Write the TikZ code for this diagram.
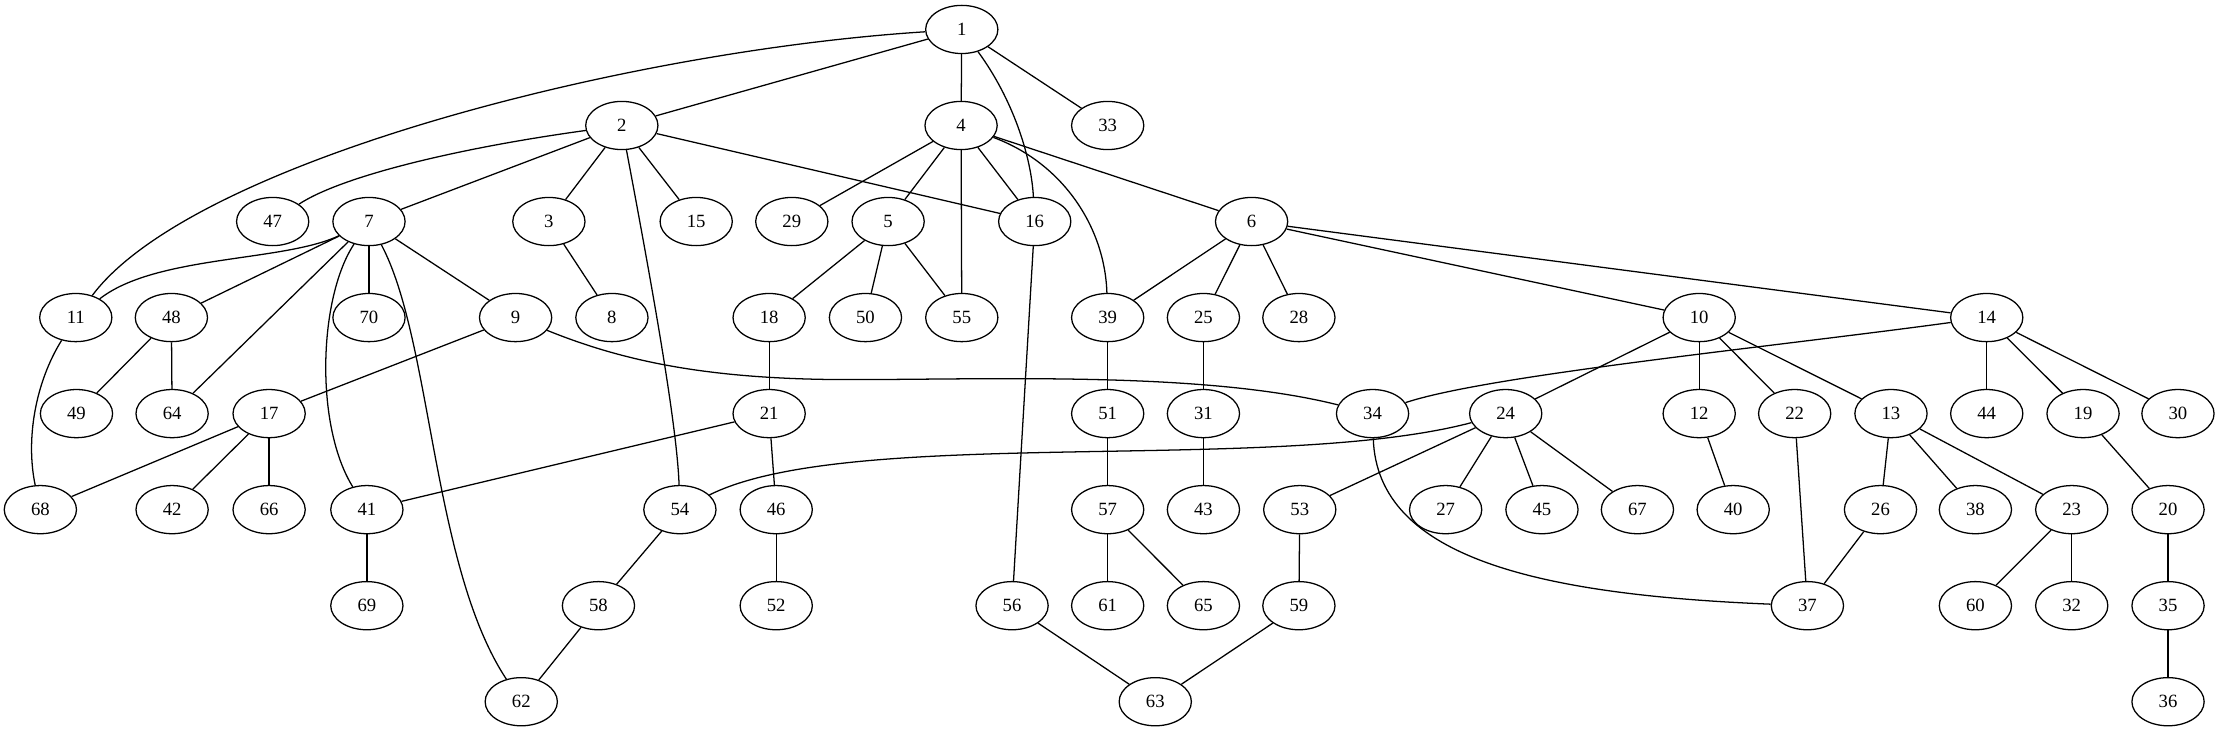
\documentclass[tikz,border=0pt]{standalone}
\usepackage{fontspec}
\setmainfont{Liberation Serif}
\usetikzlibrary{shapes.geometric}
\begin{document}
\begin{tikzpicture}[x=1pt,y=-1pt,
  v/.style={ellipse,draw,line width=0.9pt,minimum width=51pt,minimum height=34pt,inner sep=0pt,font=\fontsize{13.2}{15}\selectfont},
  e/.style={line width=0.9pt}]
\useasboundingbox (0,0) rectangle (1568,516);
\def\ra{20.8}\def\rb{88.6}\def\rc{156.4}\def\rd{224.2}\def\re{292}\def\rf{359.8}\def\rg{427.6}\def\rh{495.4}
% row 0
\node[v] (n1) at (679,\ra) {1};
% row 1
\node[v] (n2) at (439,\rb) {2};
\node[v] (n4) at (678.5,\rb) {4};
\node[v] (n33) at (782,\rb) {33};
% row 2
\node[v] (n47) at (192.5,\rc) {47};
\node[v] (n7) at (260.5,\rc) {7};
\node[v] (n3) at (387.5,\rc) {3};
\node[v] (n15) at (491.5,\rc) {15};
\node[v] (n29) at (559,\rc) {29};
\node[v] (n5) at (627,\rc) {5};
\node[v] (n16) at (730.5,\rc) {16};
\node[v] (n6) at (883.6,\rc) {6};
% row 3
\node[v] (n11) at (53.5,\rd) {11};
\node[v] (n48) at (121,\rd) {48};
\node[v] (n70) at (260.5,\rd) {70};
\node[v] (n9) at (364,\rd) {9};
\node[v] (n8) at (432,\rd) {8};
\node[v] (n18) at (543,\rd) {18};
\node[v] (n50) at (611,\rd) {50};
\node[v] (n55) at (679,\rd) {55};
\node[v] (n39) at (782,\rd) {39};
\node[v] (n25) at (849.6,\rd) {25};
\node[v] (n28) at (917,\rd) {28};
\node[v] (n10) at (1199.6,\rd) {10};
\node[v] (n14) at (1402.6,\rd) {14};
% row 4
\node[v] (n49) at (54,\re) {49};
\node[v] (n64) at (121.5,\re) {64};
\node[v] (n17) at (190,\re) {17};
\node[v] (n21) at (543,\re) {21};
\node[v] (n51) at (782,\re) {51};
\node[v] (n31) at (849.6,\re) {31};
\node[v] (n34) at (969,\re) {34};
\node[v] (n24) at (1063,\re) {24};
\node[v] (n12) at (1199.6,\re) {12};
\node[v] (n22) at (1267,\re) {22};
\node[v] (n13) at (1335,\re) {13};
\node[v] (n44) at (1402.6,\re) {44};
\node[v] (n19) at (1470.6,\re) {19};
\node[v] (n30) at (1537.6,\re) {30};
% row 5
\node[v] (n68) at (28.5,\rf) {68};
\node[v] (n42) at (121.5,\rf) {42};
\node[v] (n66) at (190,\rf) {66};
\node[v] (n41) at (259,\rf) {41};
\node[v] (n54) at (480,\rf) {54};
\node[v] (n46) at (548,\rf) {46};
\node[v] (n57) at (782,\rf) {57};
\node[v] (n43) at (849.6,\rf) {43};
\node[v] (n53) at (917.6,\rf) {53};
\node[v] (n27) at (1020.6,\rf) {27};
\node[v] (n45) at (1088.6,\rf) {45};
\node[v] (n67) at (1156,\rf) {67};
\node[v] (n40) at (1223.6,\rf) {40};
\node[v] (n26) at (1327.6,\rf) {26};
\node[v] (n38) at (1394.6,\rf) {38};
\node[v] (n23) at (1462.6,\rf) {23};
\node[v] (n20) at (1530.6,\rf) {20};
% row 6
\node[v] (n69) at (259,\rg) {69};
\node[v] (n58) at (422.5,\rg) {58};
\node[v] (n52) at (548,\rg) {52};
\node[v] (n56) at (714.5,\rg) {56};
\node[v] (n61) at (782,\rg) {61};
\node[v] (n65) at (849.6,\rg) {65};
\node[v] (n59) at (917,\rg) {59};
\node[v] (n37) at (1276,\rg) {37};
\node[v] (n60) at (1394.6,\rg) {60};
\node[v] (n32) at (1462.6,\rg) {32};
\node[v] (n35) at (1530.6,\rg) {35};
% row 7
\node[v] (n62) at (368,\rh) {62};
\node[v] (n63) at (815.6,\rh) {63};
\node[v] (n36) at (1530.6,\rh) {36};
\coordinate (c934) at (600,268);
% straight edges
\foreach \a/\b in {1/2,1/4,1/33,2/7,2/3,2/15,2/16,4/29,4/5,4/55,4/16,4/6,
  7/48,7/64,7/70,7/9,3/8,5/18,5/50,5/55,16/56,6/39,6/25,6/28,6/10,6/14,
  48/49,48/64,9/17,18/21,39/51,25/31,10/24,10/12,10/22,10/13,14/44,14/19,14/30,
  17/68,17/42,17/66,21/41,21/46,51/57,31/43,24/53,24/27,24/45,24/67,12/40,22/37,
  13/26,13/38,13/23,19/20,41/69,54/58,46/52,57/61,57/65,53/59,26/37,23/60,23/32,
  20/35,58/62,56/63,59/63,35/36}
  \draw[e] (n\a) -- (n\b);
% curved edges
\draw[e] (n1) .. controls (440,36) and (135,115) .. (n11);
\draw[e] (n2) .. controls (320,105) and (240,125) .. (n47);
\draw[e] (n2) .. controls (460,200) and (478,300) .. (n54);
\draw[e] (n7) .. controls (200,185) and (110,180) .. (n11);
\draw[e] (n7) .. controls (225,210) and (222,300) .. (n41);
\draw[e] (n7) .. controls (305,240) and (305,400) .. (n62);
\draw[e] (n1) .. controls (715,70) and (728,110) .. (n16);
\draw[e] (n4) .. controls (750,115) and (780,160) .. (n39);
\draw[e] (n9) .. controls (440,255) and (500,268) .. (c934) .. controls (700,268) and (850,262) .. (n34);
\draw[e] (n14) .. controls (1250,245) and (1050,265) .. (n34);
\draw[e] (n24) .. controls (900,335) and (600,300) .. (n54);
\draw[e] (n34) .. controls (972,395) and (1090,420) .. (n37);
\draw[e] (n11) .. controls (25,270) and (18,310) .. (n68);
\end{tikzpicture}
\end{document}
